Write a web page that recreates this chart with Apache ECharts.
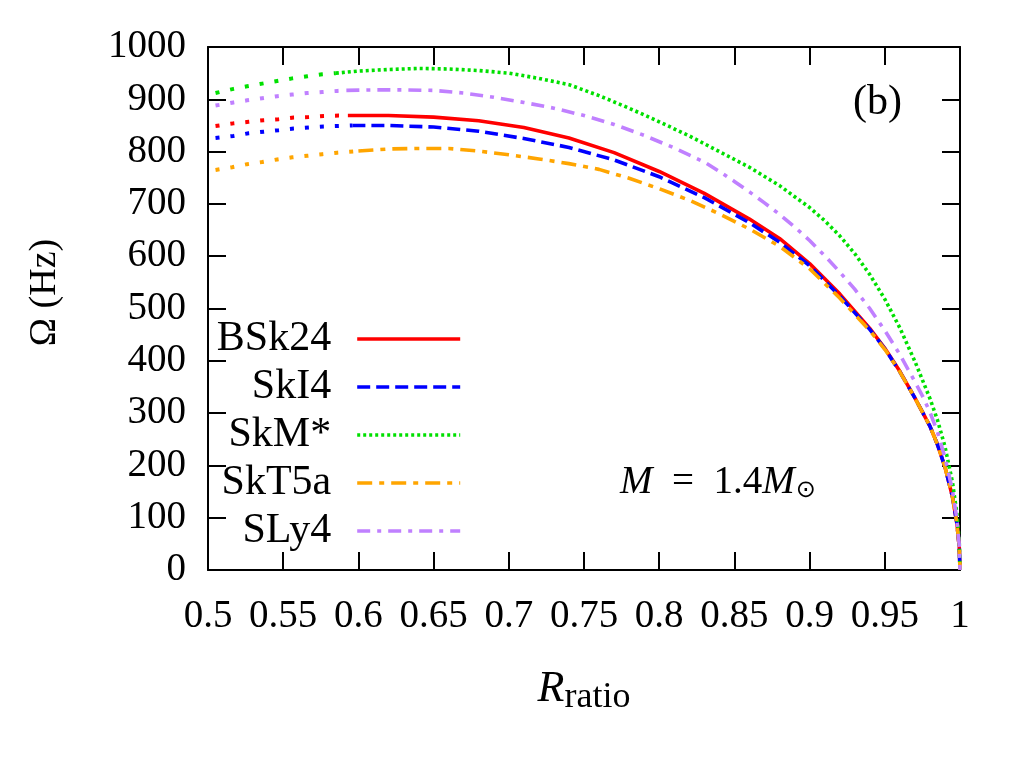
<!DOCTYPE html>
<html>
<head>
<meta charset="utf-8">
<script src="https://cdn.jsdelivr.net/npm/echarts@6/dist/echarts.min.js"></script>
<style>html,body{margin:0;padding:0;background:#fff;}#chart{width:1024px;height:768px;}</style>
</head>
<body>
<div id="chart"></div>
<script>
// ---- Data (R_ratio, Omega in Hz) ----
const modelNames = ['BSk24', 'SkI4', 'SkM*', 'SkT5a', 'SLy4'];

const bsk24Unstable = [[0.505,849],[0.517,854],[0.527,857],[0.537,860],[0.547,862],[0.557,865],[0.567,866],[0.577,868],[0.587,869],[0.593,869]];
const bsk24 = [[0.593,869],[0.62,869],[0.65,866],[0.68,859],[0.71,846],[0.74,826],[0.77,798],[0.80,762],[0.83,720],[0.86,671],[0.88,634],[0.90,586],[0.92,528],[0.94,462],[0.95,424],[0.96,380],[0.97,329],[0.98,275],[0.985,240],[0.99,197],[0.995,140],[0.998,88],[0.9995,44],[1.0,0]];

const ski4Unstable = [[0.505,826],[0.517,830],[0.527,835],[0.537,838],[0.547,841],[0.557,844],[0.567,846],[0.577,848],[0.587,849],[0.596,850]];
const ski4 = [[0.596,850],[0.62,850],[0.65,847],[0.68,839],[0.71,825],[0.74,808],[0.77,784],[0.80,752],[0.83,712],[0.86,664],[0.88,627],[0.90,582],[0.92,524],[0.94,460],[0.95,423],[0.96,379],[0.97,329],[0.98,275],[0.985,240],[0.99,197],[0.995,140],[0.998,88],[0.9995,44],[1.0,0]];

const skmUnstable = [[0.505,912],[0.517,920],[0.526,925],[0.536,930],[0.546,935],[0.556,940],[0.566,944],[0.576,948],[0.585,950]];
const skm = [[0.585,950],[0.60,954],[0.62,957],[0.64,959],[0.66,958],[0.68,955],[0.70,950],[0.72,940],[0.74,928],[0.76,907],[0.78,883],[0.80,857],[0.82,830],[0.84,800],[0.86,770],[0.88,735],[0.90,693],[0.91,668],[0.92,639],[0.93,605],[0.94,565],[0.95,518],[0.96,463],[0.97,399],[0.98,328],[0.985,287],[0.99,236],[0.995,168],[0.998,106],[0.9995,53],[1.0,0]];

const skt5aUnstable = [[0.505,765],[0.516,770],[0.526,776],[0.536,780],[0.546,785],[0.556,789],[0.566,792],[0.576,795],[0.586,798],[0.60,801]];
const skt5a = [[0.60,801],[0.62,805],[0.64,806],[0.66,806],[0.68,801],[0.70,794],[0.72,786],[0.74,777],[0.76,766],[0.78,749],[0.80,729],[0.82,707],[0.84,681],[0.86,652],[0.88,619],[0.90,576],[0.92,520],[0.94,458],[0.95,422],[0.96,379],[0.97,329],[0.98,275],[0.985,240],[0.99,197],[0.995,140],[0.998,88],[0.9995,44],[1.0,0]];

const sly4Unstable = [[0.505,888],[0.517,894],[0.526,898],[0.536,902],[0.546,906],[0.556,909],[0.566,912],[0.576,914],[0.586,916],[0.592,917]];
const sly4 = [[0.592,917],[0.61,918],[0.63,918],[0.65,917],[0.67,912],[0.69,904],[0.71,894],[0.73,883],[0.75,869],[0.77,852],[0.79,831],[0.81,807],[0.83,780],[0.84,762],[0.85,743],[0.86,723],[0.87,702],[0.88,680],[0.89,656],[0.90,630],[0.91,601],[0.92,570],[0.93,537],[0.94,500],[0.95,458],[0.96,412],[0.97,360],[0.975,333],[0.98,302],[0.985,264],[0.99,215],[0.995,152],[0.998,96],[0.9995,48],[1.0,0]];

// ---- Styles ----
const FONT = '"Liberation Serif", "Times New Roman", serif';
const colors = { BSk24: '#ff0000', SkI4: '#0000ff', 'SkM*': '#00e000', SkT5a: '#ffa500', SLy4: '#c080ff' };
const dashes = { BSk24: 'solid', SkI4: [13, 6], 'SkM*': [3, 3], SkT5a: [15, 7, 5, 7], SLy4: [13, 7, 4, 7] };
const sparseDots = [4, 11];

const stable = { BSk24: bsk24, SkI4: ski4, 'SkM*': skm, SkT5a: skt5a, SLy4: sly4 };
const unstable = { BSk24: bsk24Unstable, SkI4: ski4Unstable, 'SkM*': skmUnstable, SkT5a: skt5aUnstable, SLy4: sly4Unstable };

const series = [];
modelNames.forEach(function (n) {
  series.push({
    name: n + ' unstable', type: 'line', data: unstable[n], symbol: 'none', smooth: false,
    lineStyle: { color: colors[n], width: 4, type: sparseDots, cap: 'butt' },
    itemStyle: { color: colors[n] }, z: 2
  });
  series.push({
    name: n, type: 'line', data: stable[n], symbol: 'none', smooth: false,
    lineStyle: { color: colors[n], width: 3.6, type: dashes[n], cap: 'butt', join: 'round' },
    itemStyle: { color: colors[n] }, z: 3
  });
});

const axisCommon = {
  axisLine: { show: true, onZero: false, lineStyle: { color: '#000', width: 2 } },
  axisTick: { show: true, inside: true, length: 18, lineStyle: { color: '#000', width: 2 } },
  splitLine: { show: false }
};

const chart = echarts.init(document.getElementById('chart'), null, { renderer: 'canvas' });
chart.setOption({
  animation: false,
  backgroundColor: '#fff',
  grid: { left: 208, right: 64, top: 47, bottom: 198, containLabel: false },
  xAxis: [
    Object.assign({
      type: 'value', min: 0.5, max: 1, interval: 0.05, position: 'bottom',
      name: '{r|R}{s|ratio}', nameLocation: 'middle', nameGap: 92,
      nameTextStyle: {
        rich: {
          r: { fontFamily: FONT, fontStyle: 'italic', fontSize: 44, color: '#000' },
          s: { fontFamily: FONT, fontSize: 36, color: '#000', padding: [18, 0, 0, 0] }
        }
      },
      axisLabel: { fontFamily: FONT, fontSize: 39, color: '#000', margin: 27,
        formatter: function (v) { return String(+v.toFixed(2)); } }
    }, axisCommon),
    Object.assign({
      type: 'value', min: 0.5, max: 1, interval: 0.05, position: 'top',
      axisLabel: { show: false }
    }, axisCommon)
  ],
  yAxis: [
    Object.assign({
      type: 'value', min: 0, max: 1000, interval: 100, position: 'left',
      name: 'Ω (Hz)', nameLocation: 'middle', nameGap: 144,
      nameTextStyle: { fontFamily: FONT, fontSize: 38, color: '#000', padding: [0, 0, 0, 32] },
      axisLabel: { fontFamily: FONT, fontSize: 39, color: '#000', margin: 22,
        formatter: function (v) { return String(v); } }
    }, axisCommon),
    Object.assign({
      type: 'value', min: 0, max: 1000, interval: 100, position: 'right',
      axisLabel: { show: false }
    }, axisCommon)
  ],
  legend: {
    data: modelNames,
    orient: 'vertical', align: 'right',
    right: 557, top: 313,
    itemWidth: 103, itemHeight: 10, itemGap: 6,
    itemStyle: { opacity: 0 },
    lineStyle: { width: 3.6 },
    textStyle: { fontFamily: FONT, fontSize: 42, color: '#000', lineHeight: 40, padding: [0, 21, 0, 0] },
    selectedMode: false
  },
  graphic: [
    { type: 'text', left: 853, top: 82, style: { text: '(b)', font: '42px ' + FONT, fill: '#000' } },
    {
      type: 'text', left: 620, top: 463,
      style: {
        text: '{i|M}  =  1.4{i|M}{s|⊙}',
        font: '39px ' + FONT, fill: '#000',
        rich: {
          i: { fontFamily: FONT, fontStyle: 'italic', fontSize: 39, fill: '#000' },
          s: { fontFamily: '"DejaVu Sans", sans-serif', fontSize: 24, fill: '#000', padding: [16, 0, 0, 1] }
        }
      }
    }
  ],
  series: series
});
</script>
</body>
</html>
